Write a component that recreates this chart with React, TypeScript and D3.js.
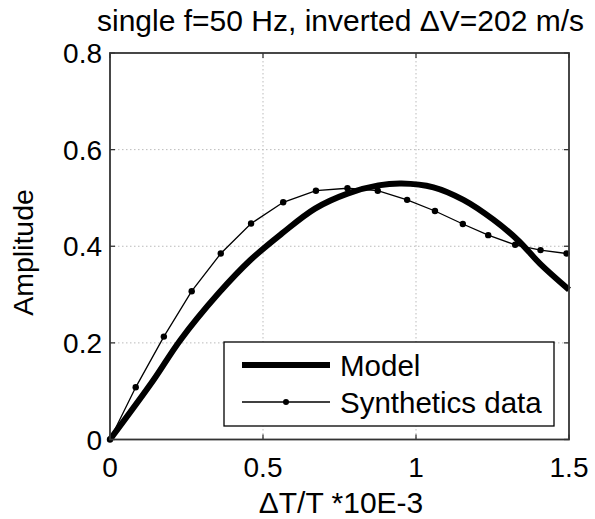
import React from "react";
import * as d3 from "d3";

const synthX = [0, 0.084, 0.176, 0.267, 0.362, 0.461, 0.566, 0.673, 0.776, 0.875, 0.971, 1.062, 1.153, 1.236, 1.324, 1.407, 1.492];
const synthY = [0, 0.108, 0.213, 0.307, 0.385, 0.447, 0.491, 0.515, 0.52, 0.515, 0.496, 0.473, 0.446, 0.423, 0.403, 0.392, 0.385];
const modelX = [0, 0.141, 0.229, 0.354, 0.458, 0.561, 0.67, 0.776, 0.877, 0.953, 1.057, 1.155, 1.253, 1.334, 1.405, 1.5];
const modelY = [0, 0.122, 0.205, 0.302, 0.371, 0.426, 0.478, 0.509, 0.526, 0.53, 0.522, 0.496, 0.455, 0.412, 0.364, 0.31];
const xTicks = [0, 0.5, 1, 1.5];
const yTicks = [0, 0.2, 0.4, 0.6, 0.8];
const xTickLabels = ["0", "0.5", "1", "1.5"];
const yTickLabels = ["0", "0.2", "0.4", "0.6", "0.8"];
const seriesNames = ["Model", "Synthetics data"];
const title = "single f=50 Hz, inverted \u0394V=202 m/s";
const xLabel = "\u0394T/T *10E-3";
const yLabel = "Amplitude";

const W = 595, H = 519;
const L = 110, R = 569, T = 53, B = 439.5;
const FONT = "'Liberation Sans', Arial, Helvetica, sans-serif";

export default function App() {
  const x = d3.scaleLinear().domain([0, 1.5]).range([L, R]);
  const y = d3.scaleLinear().domain([0, 0.8]).range([B, T]);
  const line = d3.line<[number, number]>().x(d => x(d[0])).y(d => y(d[1]));
  const modelLine = d3.line<[number, number]>().x(d => x(d[0])).y(d => y(d[1])).curve(d3.curveCatmullRom);
  const synth = synthX.map((v, i) => [v, synthY[i]] as [number, number]);
  const model = modelX.map((v, i) => [v, modelY[i]] as [number, number]);
  const tl = 5;
  const axisColor = "#333";
  return (
    <svg width={W} height={H} style={{ position: "absolute", left: 0, top: 0, background: "#fff" }} fontFamily={FONT}>
      <rect x={0} y={0} width={W} height={H} fill="#fff" />
      {/* grid */}
      {xTicks.slice(1, -1).map((t, i) => (
        <line key={"gx" + i} x1={x(t)} x2={x(t)} y1={T} y2={B} stroke="#bbb" strokeWidth={1} strokeDasharray="1.5,2.5" />
      ))}
      {yTicks.slice(1, -1).map((t, i) => (
        <line key={"gy" + i} x1={L} x2={R} y1={y(t)} y2={y(t)} stroke="#bbb" strokeWidth={1} strokeDasharray="1.5,2.5" />
      ))}
      {/* ticks */}
      {xTicks.map((t, i) => (
        <g key={"tx" + i}>
          <line x1={x(t)} x2={x(t)} y1={B} y2={B - tl} stroke={axisColor} strokeWidth={1.3} />
          <line x1={x(t)} x2={x(t)} y1={T} y2={T + tl} stroke={axisColor} strokeWidth={1.3} />
          <text x={x(t)} y={477} fontSize={28} textAnchor="middle" fill="#000">{xTickLabels[i]}</text>
        </g>
      ))}
      {yTicks.map((t, i) => (
        <g key={"ty" + i}>
          <line x1={L} x2={L + tl} y1={y(t)} y2={y(t)} stroke={axisColor} strokeWidth={1.3} />
          <line x1={R} x2={R - tl} y1={y(t)} y2={y(t)} stroke={axisColor} strokeWidth={1.3} />
          <text x={102} y={y(t) + 10} fontSize={28} textAnchor="end" fill="#000">{yTickLabels[i]}</text>
        </g>
      ))}
      {/* data */}
      <path d={modelLine(model) || ""} fill="none" stroke="#000" strokeWidth={6} strokeLinejoin="round" />
      <path d={line(synth) || ""} fill="none" stroke="#000" strokeWidth={1.3} />
      {synth.map((d, i) => (
        <circle key={"p" + i} cx={x(d[0])} cy={y(d[1])} r={3.2} fill="#000" />
      ))}
      {/* box */}
      <rect x={L} y={T} width={R - L} height={B - T} fill="none" stroke={axisColor} strokeWidth={1.8} />
      {/* legend */}
      <rect x={224} y={342} width={330} height={84} fill="#fff" stroke="#000" strokeWidth={1.3} />
      <line x1={242} x2={330} y1={365} y2={365} stroke="#000" strokeWidth={6} />
      <text x={340} y={375.5} fontSize={29.5} fill="#000">{seriesNames[0]}</text>
      <line x1={242} x2={330} y1={402} y2={402} stroke="#000" strokeWidth={1.3} />
      <circle cx={286} cy={402} r={3} fill="#000" />
      <text x={340} y={412.5} fontSize={29.5} fill="#000">{seriesNames[1]}</text>
      {/* labels */}
      <text x={340.5} y={31} fontSize={30} textAnchor="middle" fill="#000">{title}</text>
      <text x={341} y={513} fontSize={30} textAnchor="middle" fill="#000">{xLabel}</text>
      <text transform={`translate(33,252.5) rotate(-90)`} fontSize={28.5} textAnchor="middle" fill="#000">{yLabel}</text>
    </svg>
  );
}
